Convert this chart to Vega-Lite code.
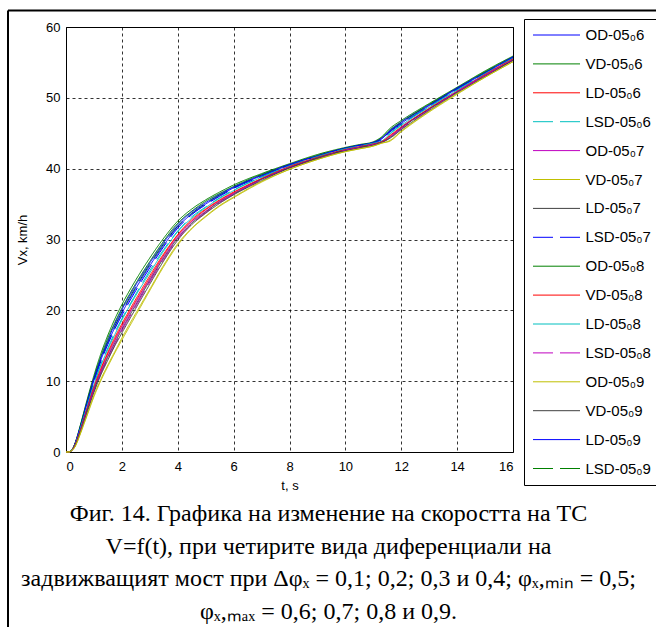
{
  "$schema": "https://vega.github.io/schema/vega-lite/v6.json",
  "width": 447,
  "height": 425,
  "autosize": {"type": "none"},
  "padding": {"left": 66, "top": 27, "right": 143, "bottom": 175},
  "background": "white",
  "config": {
    "view": {"stroke": "black", "strokeWidth": 1},
    "axis": {
      "domain": false,
      "ticks": false,
      "grid": true,
      "gridColor": "#000000",
      "gridDash": [3, 3],
      "gridOpacity": 0.8,
      "gridWidth": 1,
      "labelFont": "Liberation Sans",
      "labelFontSize": 13,
      "labelColor": "black",
      "titleFont": "Liberation Sans",
      "titleFontSize": 13,
      "titleFontWeight": "normal",
      "titleColor": "black"
    },
    "legend": {
      "strokeColor": "black",
      "fillColor": "white",
      "strokeWidth": 1
    }
  },
  "datasets": {
    "names": [
      {"k": "a", "name": "VD-05₀6"},
      {"k": "b", "name": "OD-05₀8"},
      {"k": "c", "name": "LD-05₀9"},
      {"k": "d", "name": "LSD-05₀9"},
      {"k": "e", "name": "OD-05₀6"},
      {"k": "f", "name": "LSD-05₀7"},
      {"k": "g", "name": "LSD-05₀6"},
      {"k": "h", "name": "LD-05₀8"},
      {"k": "i", "name": "LD-05₀6"},
      {"k": "j", "name": "VD-05₀8"},
      {"k": "k", "name": "OD-05₀7"},
      {"k": "l", "name": "LD-05₀7"},
      {"k": "m", "name": "LSD-05₀8"},
      {"k": "n", "name": "VD-05₀9"},
      {"k": "o", "name": "VD-05₀7"},
      {"k": "p", "name": "OD-05₀9"}
    ],
    "curves": [
      {"t":0,"a":0,"b":0,"c":0,"d":0,"e":0,"f":0,"g":0,"h":0,"i":0,"j":0,"k":0,"l":0,"m":0,"n":0,"o":0,"p":0},
      {"t":0.1,"a":0,"b":0,"c":0,"d":0,"e":0,"f":0,"g":0,"h":0,"i":0,"j":0,"k":0,"l":0,"m":0,"n":0,"o":0,"p":0},
      {"t":0.2,"a":0.3,"b":0.2,"c":0.2,"d":0.2,"e":0.2,"f":0.2,"g":0.2,"h":0.2,"i":0.2,"j":0.2,"k":0.2,"l":0.2,"m":0.2,"n":0.2,"o":0.2,"p":0.2},
      {"t":0.3,"a":1.0,"b":1.0,"c":0.9,"d":0.9,"e":0.9,"f":0.9,"g":0.8,"h":0.8,"i":0.8,"j":0.8,"k":0.7,"l":0.7,"m":0.7,"n":0.7,"o":0.6,"p":0.6},
      {"t":0.4,"a":2.2,"b":2.1,"c":2.1,"d":2.0,"e":2.0,"f":2.0,"g":1.9,"h":1.8,"i":1.8,"j":1.7,"k":1.7,"l":1.6,"m":1.6,"n":1.6,"o":1.4,"p":1.4},
      {"t":0.5,"a":3.6,"b":3.5,"c":3.4,"d":3.4,"e":3.3,"f":3.2,"g":3.1,"h":3.1,"i":2.9,"j":2.9,"k":2.8,"l":2.8,"m":2.7,"n":2.6,"o":2.5,"p":2.4},
      {"t":0.75,"a":7.3,"b":7.1,"c":7.0,"d":6.9,"e":6.8,"f":6.6,"g":6.4,"h":6.3,"i":6.1,"j":6.0,"k":5.9,"l":5.8,"m":5.7,"n":5.5,"o":5.2,"p":5.1},
      {"t":1,"a":10.8,"b":10.5,"c":10.4,"d":10.2,"e":10.1,"f":9.9,"g":9.6,"h":9.5,"i":9.2,"j":9.0,"k":8.9,"l":8.7,"m":8.6,"n":8.4,"o":8.0,"p":7.8},
      {"t":1.25,"a":13.9,"b":13.5,"c":13.3,"d":13.1,"e":13.0,"f":12.8,"g":12.4,"h":12.2,"i":11.8,"j":11.6,"k":11.4,"l":11.2,"m":11.1,"n":10.9,"o":10.3,"p":10.1},
      {"t":1.5,"a":16.5,"b":16.1,"c":15.8,"d":15.6,"e":15.4,"f":15.2,"g":14.7,"h":14.5,"i":14.1,"j":13.9,"k":13.6,"l":13.4,"m":13.2,"n":13.0,"o":12.3,"p":12.1},
      {"t":1.75,"a":18.8,"b":18.3,"c":18.1,"d":17.8,"e":17.6,"f":17.4,"g":16.9,"h":16.6,"i":16.2,"j":15.9,"k":15.7,"l":15.4,"m":15.2,"n":15.0,"o":14.2,"p":14.0},
      {"t":2,"a":20.8,"b":20.3,"c":20.1,"d":19.8,"e":19.6,"f":19.3,"g":18.8,"h":18.6,"i":18.1,"j":17.8,"k":17.6,"l":17.3,"m":17.1,"n":16.8,"o":16.1,"p":15.8},
      {"t":2.5,"a":24.3,"b":23.8,"c":23.6,"d":23.3,"e":23.1,"f":22.8,"g":22.3,"h":22.1,"i":21.6,"j":21.3,"k":21.1,"l":20.8,"m":20.6,"n":20.3,"o":19.6,"p":19.3},
      {"t":3,"a":27.4,"b":26.9,"c":26.7,"d":26.5,"e":26.3,"f":26.0,"g":25.6,"h":25.3,"i":24.9,"j":24.6,"k":24.4,"l":24.2,"m":24.0,"n":23.7,"o":23.0,"p":22.8},
      {"t":3.5,"a":30.2,"b":29.8,"c":29.6,"d":29.4,"e":29.2,"f":29.0,"g":28.6,"h":28.4,"i":28.0,"j":27.8,"k":27.6,"l":27.4,"m":27.2,"n":27.0,"o":26.4,"p":26.2},
      {"t":4,"a":32.6,"b":32.3,"c":32.1,"d":31.9,"e":31.8,"f":31.6,"g":31.2,"h":31.1,"i":30.7,"j":30.6,"k":30.4,"l":30.2,"m":30.1,"n":29.9,"o":29.4,"p":29.2},
      {"t":4.5,"a":34.3,"b":34.0,"c":33.9,"d":33.7,"e":33.6,"f":33.5,"g":33.2,"h":33.0,"i":32.8,"j":32.6,"k":32.5,"l":32.3,"m":32.2,"n":32.1,"o":31.6,"p":31.5},
      {"t":5,"a":35.6,"b":35.4,"c":35.2,"d":35.1,"e":35.0,"f":34.9,"g":34.6,"h":34.5,"i":34.3,"j":34.2,"k":34.0,"l":33.9,"m":33.8,"n":33.7,"o":33.3,"p":33.2},
      {"t":5.5,"a":36.7,"b":36.5,"c":36.4,"d":36.3,"e":36.2,"f":36.1,"g":35.9,"h":35.8,"i":35.6,"j":35.5,"k":35.4,"l":35.3,"m":35.2,"n":35.1,"o":34.8,"p":34.7},
      {"t":6,"a":37.7,"b":37.5,"c":37.4,"d":37.3,"e":37.3,"f":37.2,"g":37.0,"h":36.9,"i":36.7,"j":36.6,"k":36.5,"l":36.4,"m":36.4,"n":36.3,"o":36.0,"p":35.9},
      {"t":7,"a":39.3,"b":39.2,"c":39.1,"d":39.1,"e":39.0,"f":38.9,"g":38.8,"h":38.8,"i":38.6,"j":38.6,"k":38.5,"l":38.5,"m":38.4,"n":38.3,"o":38.2,"p":38.1},
      {"t":8,"a":40.7,"b":40.6,"c":40.6,"d":40.5,"e":40.5,"f":40.5,"g":40.4,"h":40.3,"i":40.3,"j":40.2,"k":40.2,"l":40.1,"m":40.1,"n":40.1,"o":39.9,"p":39.9},
      {"t":9,"a":42.0,"b":41.9,"c":41.8,"d":41.8,"e":41.8,"f":41.7,"g":41.7,"h":41.6,"i":41.6,"j":41.5,"k":41.5,"l":41.5,"m":41.4,"n":41.4,"o":41.3,"p":41.3},
      {"t":10,"a":43.0,"b":42.9,"c":42.9,"d":42.9,"e":42.9,"f":42.8,"g":42.8,"h":42.7,"i":42.7,"j":42.6,"k":42.6,"l":42.6,"m":42.6,"n":42.5,"o":42.4,"p":42.4},
      {"t":10.5,"a":43.4,"b":43.3,"c":43.3,"d":43.3,"e":43.3,"f":43.2,"g":43.2,"h":43.1,"i":43.1,"j":43.0,"k":43.0,"l":43.0,"m":43.0,"n":42.9,"o":42.8,"p":42.8},
      {"t":11,"a":43.8,"b":43.7,"c":43.7,"d":43.7,"e":43.7,"f":43.6,"g":43.6,"h":43.5,"i":43.5,"j":43.4,"k":43.4,"l":43.4,"m":43.4,"n":43.3,"o":43.2,"p":43.2},
      {"t":11.3,"a":44.5,"b":44.4,"c":44.3,"d":44.2,"e":44.2,"f":44.1,"g":43.9,"h":43.9,"i":43.8,"j":43.8,"k":43.7,"l":43.7,"m":43.7,"n":43.7,"o":43.6,"p":43.6},
      {"t":11.6,"a":45.7,"b":45.5,"c":45.4,"d":45.3,"e":45.3,"f":45.2,"g":45.0,"h":44.9,"i":44.7,"j":44.6,"k":44.5,"l":44.4,"m":44.4,"n":44.3,"o":44.0,"p":43.9},
      {"t":12,"a":46.8,"b":46.6,"c":46.6,"d":46.5,"e":46.4,"f":46.3,"g":46.2,"h":46.1,"i":45.9,"j":45.8,"k":45.8,"l":45.7,"m":45.6,"n":45.5,"o":45.3,"p":45.2},
      {"t":13,"a":49.2,"b":49.1,"c":49.0,"d":49.0,"e":48.9,"f":48.8,"g":48.7,"h":48.7,"i":48.5,"j":48.5,"k":48.4,"l":48.4,"m":48.3,"n":48.2,"o":48.1,"p":48.0},
      {"t":14,"a":51.5,"b":51.4,"c":51.4,"d":51.3,"e":51.3,"f":51.2,"g":51.1,"h":51.1,"i":50.9,"j":50.9,"k":50.9,"l":50.8,"m":50.8,"n":50.7,"o":50.6,"p":50.5},
      {"t":15,"a":53.8,"b":53.7,"c":53.6,"d":53.6,"e":53.5,"f":53.5,"g":53.4,"h":53.3,"i":53.3,"j":53.2,"k":53.2,"l":53.1,"m":53.1,"n":53.0,"o":52.9,"p":52.9},
      {"t":16,"a":55.9,"b":55.8,"c":55.8,"d":55.7,"e":55.7,"f":55.7,"g":55.6,"h":55.5,"i":55.5,"j":55.4,"k":55.4,"l":55.3,"m":55.3,"n":55.3,"o":55.1,"p":55.1}
    ]
  },
  "layer": [
    {
      "data": {"name": "curves"},
      "transform": [
        {"fold": ["a","b","c","d","e","f","g","h","i","j","k","l","m","n","o","p"], "as": ["key", "v"]},
        {"lookup": "key", "from": {"data": {"name": "names"}, "key": "k", "fields": ["name"]}}
      ],
      "mark": {"type": "line", "strokeWidth": 1, "interpolate": "monotone"},
      "encoding": {
        "x": {
          "field": "t", "type": "quantitative",
          "scale": {"domain": [0, 16], "nice": false, "zero": false},
          "axis": {"title": "t, s", "values": [0,2,4,6,8,10,12,14,16], "labelPadding": 8, "titlePadding": 6}
        },
        "y": {
          "field": "v", "type": "quantitative",
          "scale": {"domain": [0, 60], "nice": false},
          "axis": {"title": "Vx, km/h", "values": [0,10,20,30,40,50,60], "labelPadding": 6, "titlePadding": 16}
        },
        "color": {
          "field": "name", "type": "nominal",
          "scale": {
            "domain": ["OD-05₀6","VD-05₀6","LD-05₀6","LSD-05₀6","OD-05₀7","VD-05₀7","LD-05₀7","LSD-05₀7","OD-05₀8","VD-05₀8","LD-05₀8","LSD-05₀8","OD-05₀9","VD-05₀9","LD-05₀9","LSD-05₀9"],
            "range": ["#0000ff","#008000","#ff0000","#00bfbf","#bf00bf","#bfbf00","#404040","#0000ff","#008000","#ff0000","#00bfbf","#bf00bf","#bfbf00","#404040","#0000ff","#008000"]
          },
          "legend": {
            "title": null,
            "orient": "none",
            "legendX": 458,
            "legendY": -8,
            "symbolType": "stroke",
            "symbolSize": 2209,
            "symbolStrokeWidth": 1,
            "clipHeight": 15,
            "rowPadding": 12.9,
            "padding": 8.5,
            "labelFont": "Liberation Sans",
            "labelFontSize": 15,
            "labelColor": "black",
            "labelOffset": 5,
            "labelLimit": 200
          }
        },
        "strokeDash": {
          "field": "name", "type": "nominal",
          "scale": {
            "domain": ["OD-05₀6","VD-05₀6","LD-05₀6","LSD-05₀6","OD-05₀7","VD-05₀7","LD-05₀7","LSD-05₀7","OD-05₀8","VD-05₀8","LD-05₀8","LSD-05₀8","OD-05₀9","VD-05₀9","LD-05₀9","LSD-05₀9"],
            "range": [[1,0],[1,0],[1,0],[20,7],[1,0],[1,0],[1,0],[20,7],[1,0],[1,0],[1,0],[20,7],[1,0],[1,0],[1,0],[20,7]]
          },
          "legend": {
            "title": null,
            "orient": "none",
            "legendX": 458,
            "legendY": -8,
            "symbolType": "stroke",
            "symbolSize": 2209,
            "symbolStrokeWidth": 1,
            "clipHeight": 15,
            "rowPadding": 12.9,
            "padding": 8.5,
            "labelFont": "Liberation Sans",
            "labelFontSize": 15,
            "labelColor": "black",
            "labelOffset": 5,
            "labelLimit": 200
          }
        }
      }
    },
    {
      "data": {"values": [{}]},
      "mark": {"type": "rule", "color": "black", "strokeWidth": 2, "clip": false},
      "encoding": {
        "x": {"datum": -2.076, "type": "quantitative"},
        "y": {"datum": 62.33, "type": "quantitative"},
        "y2": {"datum": -30}
      }
    },
    {
      "data": {"values": [{}]},
      "mark": {"type": "rule", "color": "black", "strokeWidth": 2, "clip": false},
      "encoding": {
        "x": {"datum": -2.076, "type": "quantitative"},
        "x2": {"datum": 25},
        "y": {"datum": 62.33, "type": "quantitative"}
      }
    },
    {
      "data": {"values": [{}]},
      "mark": {"type": "text", "font": "Liberation Serif", "fontSize": 24, "lineHeight": 32.7, "align": "center", "baseline": "alphabetic", "color": "black", "clip": false},
      "encoding": {
        "x": {"datum": 9.396, "type": "quantitative"},
        "y": {"datum": -9.74, "type": "quantitative"},
        "text": {"value": [
          "Фиг. 14. Графика на изменение на скоростта на ТС",
          "V=f(t), при четирите вида диференциали на",
          "задвижващият мост при Δφₓ = 0,1; 0,2; 0,3 и 0,4; φₓ,ₘᵢₙ = 0,5;",
          "φₓ,ₘₐₓ = 0,6; 0,7; 0,8 и 0,9."
        ]}
      }
    }
  ]
}
